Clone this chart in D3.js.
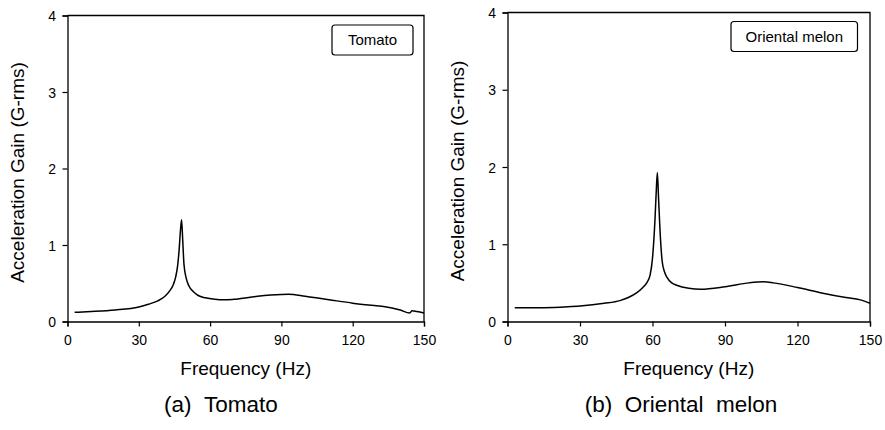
<!DOCTYPE html>
<html>
<head>
<meta charset="utf-8">
<script src="https://cdn.jsdelivr.net/npm/d3@7"></script>
<style>
  html, body { margin: 0; padding: 0; background: #fff; }
  svg { display: block; font-family: Arial, "Liberation Sans", sans-serif; }
</style>
</head>
<body>
<svg id="chart" width="885" height="430"></svg>
<script>
// ---- data ----
const tomatoFreq = [3, 10, 20, 30, 34, 38, 41, 43, 44.5, 45.5, 46.3, 47, 47.5, 48, 48.5, 49, 50, 51, 53, 55, 58, 62, 66, 70, 80, 90, 93, 100, 110, 120, 130, 133, 140, 144, 145, 147, 150];
const tomatoGain = [0.12, 0.13, 0.15, 0.19, 0.225, 0.27, 0.33, 0.40, 0.48, 0.58, 0.72, 0.95, 1.18, 1.33, 1.05, 0.75, 0.56, 0.47, 0.39, 0.34, 0.31, 0.29, 0.283, 0.29, 0.33, 0.353, 0.355, 0.33, 0.285, 0.24, 0.205, 0.195, 0.15, 0.11, 0.14, 0.13, 0.11];

const melonFreq = [3, 15, 25, 30, 40, 46.5, 50, 53.4, 56, 57.6, 59, 60, 61, 61.5, 62, 62.5, 63, 64, 65, 66, 68, 70, 75, 80, 90, 100, 106, 110, 120, 130, 140, 146, 150];
const melonGain = [0.177, 0.178, 0.19, 0.2, 0.235, 0.27, 0.31, 0.37, 0.44, 0.5, 0.6, 0.82, 1.3, 1.65, 1.93, 1.6, 1.25, 0.78, 0.64, 0.57, 0.5, 0.47, 0.43, 0.418, 0.45, 0.50, 0.513, 0.50, 0.44, 0.37, 0.31, 0.28, 0.237];

const xTicks = [0, 30, 60, 90, 120, 150];
const yTicks = [0, 1, 2, 3, 4];
const xLabel = "Frequency (Hz)";
const yLabel = "Acceleration Gain (G-rms)";

const panels = [
  { freq: tomatoFreq, gain: tomatoGain, legend: "Tomato", caption: "(a)\u00a0\u00a0Tomato",
    x0: 67.5, x1: 424, yTop: 15.5, yBot: 321.5, titleX: 17, capX: 221,
    legBox: [332, 25, 81, 30] },
  { freq: melonFreq, gain: melonGain, legend: "Oriental melon", caption: "(b)\u00a0\u00a0Oriental\u00a0\u00a0melon",
    x0: 507.5, x1: 870, yTop: 12.5, yBot: 321.5, titleX: 457, capX: 681,
    legBox: [731, 21.5, 126.5, 30] }
];

const svg = d3.select("#chart");

panels.forEach(p => {
  const x = d3.scaleLinear().domain([0, 150]).range([p.x0, p.x1]);
  const y = d3.scaleLinear().domain([0, 4]).range([p.yBot, p.yTop]);
  const g = svg.append("g");

  // frame (top and right)
  g.append("path")
    .attr("d", `M${p.x0},${p.yTop}H${p.x1}V${p.yBot}`)
    .attr("fill", "none").attr("stroke", "#000").attr("stroke-width", 1.3);

  const xa = g.append("g").attr("transform", `translate(0,${p.yBot})`)
    .call(d3.axisBottom(x).tickValues(xTicks).tickSizeOuter(0).tickSize(5).tickPadding(4));
  xa.select(".domain").attr("stroke-width", 1.3);
  xa.selectAll(".tick line").attr("stroke-width", 1.2);
  xa.selectAll(".tick text").attr("font-size", 14).attr("fill", "#000")
    .attr("font-family", "Arial, 'Liberation Sans', sans-serif")
    .attr("y", 23.5).attr("dy", 0);

  const ya = g.append("g").attr("transform", `translate(${p.x0},0)`)
    .call(d3.axisLeft(y).tickValues(yTicks).tickSizeOuter(0).tickSize(5).tickFormat(d3.format("d")));
  ya.select(".domain").attr("stroke-width", 1.3);
  ya.selectAll(".tick line").attr("stroke-width", 1.2);
  ya.selectAll(".tick text").attr("font-size", 14).attr("fill", "#000")
    .attr("font-family", "Arial, 'Liberation Sans', sans-serif")
    .attr("x", -11.5).attr("dy", "0.36em");

  const pts = p.freq.map((f, i) => [f, p.gain[i]]);
  g.append("path")
    .datum(pts)
    .attr("fill", "none").attr("stroke", "#000").attr("stroke-width", 1.5)
    .attr("stroke-linejoin", "round")
    .attr("d", d3.line().x(d => x(d[0])).y(d => y(d[1])).curve(d3.curveMonotoneX));

  // legend
  const [lx, ly, lw, lh] = p.legBox;
  g.append("rect").attr("x", lx).attr("y", ly).attr("width", lw).attr("height", lh)
    .attr("rx", 3).attr("fill", "#fff").attr("stroke", "#000").attr("stroke-width", 1.2);
  g.append("text").attr("x", lx + lw / 2).attr("y", ly + lh / 2 + 5.3)
    .attr("text-anchor", "middle").attr("font-size", 15).text(p.legend);

  // axis titles
  g.append("text").attr("x", (p.x0 + p.x1) / 2).attr("y", 375)
    .attr("text-anchor", "middle").attr("font-size", 19).text(xLabel);
  g.append("text")
    .attr("transform", `translate(${p.titleX + 6.5},${(p.yTop + p.yBot) / 2 + 4}) rotate(-90)`)
    .attr("text-anchor", "middle").attr("font-size", 19).text(yLabel);

  // caption
  g.append("text").attr("x", p.capX).attr("y", 412)
    .attr("text-anchor", "middle").attr("font-size", 22.5).text(p.caption);
});
</script>
</body>
</html>
